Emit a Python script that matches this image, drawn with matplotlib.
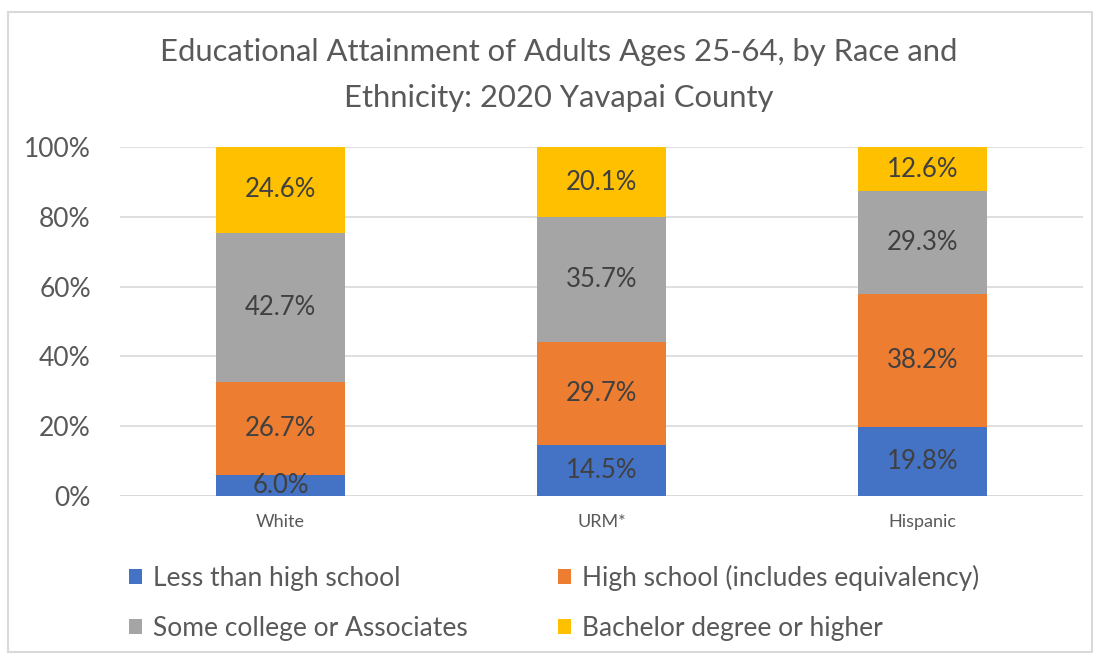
import numpy as np
import matplotlib
matplotlib.use("Agg")
from matplotlib import pyplot as plt
from matplotlib.patches import Rectangle, Patch

plt.rcParams['font.family'] = ['Lato', 'DejaVu Sans']

categories = ["White", "URM*", "Hispanic"]
series_names = ["Less than high school", "High school (includes equivalency)",
                "Some college or Associates", "Bachelor degree or higher"]
less_hs = [6.0, 14.5, 19.8]
high_school = [26.7, 29.7, 38.2]
some_college = [42.7, 35.7, 29.3]
bachelor = [24.6, 20.1, 12.6]
yticks = [0, 20, 40, 60, 80, 100]

colors = ["#4472C4", "#ED7D31", "#A5A5A5", "#FFC000"]
text_col = "#404040"

W, H = 1099, 658
fig = plt.figure(figsize=(W / 100, H / 100), dpi=100)

# outer frame
fig.patches.append(Rectangle((8 / W, 6 / H), 1084 / W, 640 / H, transform=fig.transFigure,
                             fill=False, edgecolor="#D9D9D9", linewidth=1.5))

ax = fig.add_axes([120 / W, 162 / H, 963 / W, 349 / H])
x = np.arange(len(categories))
bottom = np.zeros(len(categories))
for vals, name, c in zip([less_hs, high_school, some_college, bachelor], series_names, colors):
    vals = np.array(vals)
    ax.bar(x, vals, width=0.4, bottom=bottom, color=c, label=name, zorder=2)
    for xi, v, b in zip(x, vals, bottom):
        ax.text(xi, b + v / 2, "%.1f%%" % v, ha="center", va="center",
                fontsize=18.5, color=text_col, zorder=3)
    bottom += vals

ax.set_xlim(-0.5, 2.5)
ax.set_ylim(0, 100)
ax.set_yticks(yticks)
ax.set_yticklabels(["%d%%" % t for t in yticks], fontsize=19, color="#595959")
ax.set_xticks(x)
ax.set_xticklabels(categories, fontsize=13, color="#595959")
ax.tick_params(length=0)
ax.tick_params(axis="y", pad=21)
ax.tick_params(axis="x", pad=13)
ax.grid(axis="y", color="#D9D9D9", linewidth=1.2, zorder=0)
for s in ax.spines.values():
    s.set_visible(False)
ax.axhline(0, color="#D9D9D9", linewidth=1.2, zorder=1)

fig.text(559 / W, 1 - 52 / H, "Educational Attainment of Adults Ages 25-64, by Race and",
         ha="center", va="center", fontsize=22.3, color="#595959")
fig.text(559 / W, 1 - 98 / H, "Ethnicity: 2020 Yavapai County",
         ha="center", va="center", fontsize=22.3, color="#595959")

handles = [Patch(facecolor=c, edgecolor="none") for c in colors]
fig.legend([handles[i] for i in [0, 2, 1, 3]], [series_names[i] for i in [0, 2, 1, 3]],
           ncol=2, loc="center left", bbox_to_anchor=(129 / W, 1 - 603 / H),
           frameon=False, fontsize=19, labelcolor="#595959",
           borderpad=0, borderaxespad=0,
           handlelength=0.5, handleheight=0.5, handletextpad=0.42,
           columnspacing=3.4, labelspacing=0.95)

fig.savefig("out.png", dpi=100)
